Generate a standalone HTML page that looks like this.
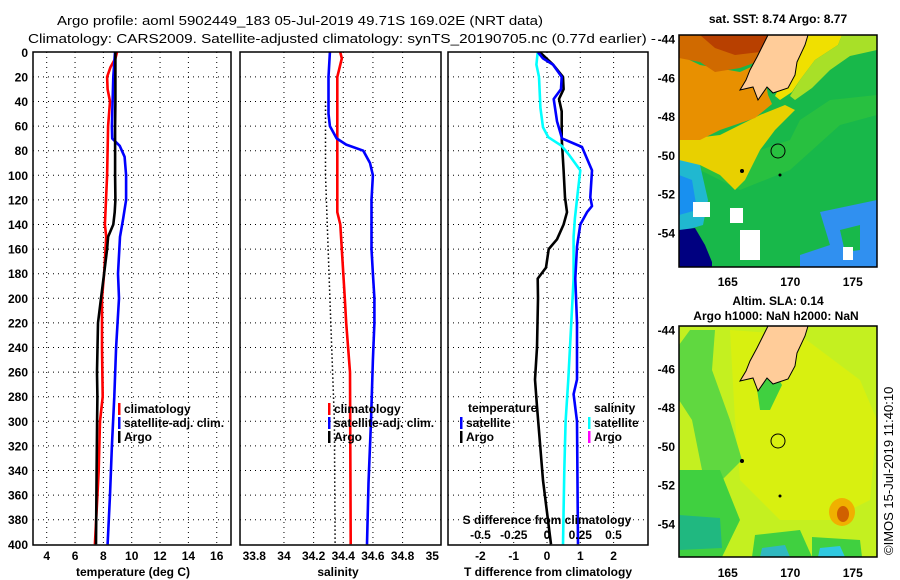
<!DOCTYPE html>
<html><head><meta charset="utf-8">
<style>
html,body{margin:0;padding:0;background:#fff;}
svg{display:block;font-family:"Liberation Sans",sans-serif;}
.t{font-size:12px;font-weight:bold;fill:#000;}
.h{font-size:13px;fill:#000;}
</style></head>
<body>
<svg id="fig" width="900" height="580" viewBox="0 0 900 580" xmlns="http://www.w3.org/2000/svg">
<text class="h" x="57" y="25" textLength="486" lengthAdjust="spacingAndGlyphs">Argo profile: aoml 5902449_183 05-Jul-2019 49.71S 169.02E (NRT data)</text>
<text class="h" x="28" y="43" textLength="628" lengthAdjust="spacingAndGlyphs">Climatology: CARS2009. Satellite-adjusted climatology: synTS_20190705.nc (0.77d earlier) -</text>

<!-- top map -->
<g>
<text class="t" x="778" y="23" text-anchor="middle">sat. SST: 8.74 Argo: 8.77</text>
<svg x="679" y="35" width="198" height="232" viewBox="679 35 198 232">
<rect x="679" y="35" width="198" height="232" fill="#18b84a"/>
<polygon fill="#28c040" points="679,150 700,150 730,145 760,150 790,140 800,120 830,100 877,95 877,115 840,125 790,170 740,190 700,170 679,165"/>
<polygon fill="#e8d000" points="679,140 720,135 760,115 785,105 795,110 775,130 760,150 745,180 735,190 720,175 700,165 679,165"/>
<polygon fill="#e89000" points="679,55 700,65 740,72 762,62 768,95 772,104 755,118 720,130 700,140 679,140"/>
<polygon fill="#d06a00" points="679,35 770,35 762,60 740,68 715,72 700,62 679,58"/>
<polygon fill="#b84000" points="700,35 770,35 760,52 735,55 715,48"/>
<polygon fill="#f0e000" points="806,35 842,35 838,45 815,60 800,80 792,92 780,100 775,96"/>
<polygon fill="#a8e028" points="842,35 877,35 877,50 850,56 830,70 812,88 795,100 790,96 800,80 815,60 838,45"/>
<polygon fill="#20b8d0" points="679,160 700,165 708,200 703,225 679,232"/>
<polygon fill="#1890f0" points="679,175 692,180 697,210 679,215"/>
<polygon fill="#000080" points="679,230 695,228 705,245 712,262 712,267 679,267"/>
<polygon fill="#3090f0" points="820,212 877,200 877,267 800,267 800,255 830,245"/>
<polygon fill="#18b84a" points="840,230 860,225 860,250 845,252"/>
<rect x="693" y="202" width="17" height="15" fill="#fff"/>
<rect x="730" y="208" width="13" height="15" fill="#fff"/>
<rect x="740" y="230" width="20" height="30" fill="#fff"/>
<rect x="843" y="247" width="10" height="13" fill="#fff"/>
<g id="land1">
<polygon fill="#ffcc99" stroke="#000" stroke-width="1" points="768,35 808,35 805,45 797,62 795,75 788,88 773,93 767,87 758,100 753,87 740,90 746,80 750,70 757,57"/>
</g>
<circle cx="778" cy="151" r="7" fill="none" stroke="#000" stroke-width="1"/>
<circle cx="780" cy="175" r="1.5" fill="#000"/>
<circle cx="742" cy="171" r="2" fill="#000"/>
</svg>
<rect x="679" y="35" width="198" height="232" fill="none" stroke="#000" stroke-width="1.5"/>
</g>

<!-- bottom map -->
<g>
<text class="t" x="778" y="305" text-anchor="middle">Altim. SLA: 0.14</text>
<text class="t" x="776" y="320" text-anchor="middle">Argo h1000: NaN h2000: NaN</text>
<svg x="679" y="326" width="198" height="231" viewBox="679 326 198 231">
<rect x="679" y="326" width="198" height="231" fill="#c4f020"/>
<polygon fill="#d8f010" points="730,330 800,335 860,380 877,420 870,500 830,520 780,520 740,480 735,420"/>
<polygon fill="#60d840" points="690,330 715,330 712,370 730,420 742,460 722,480 702,470 692,420 679,400 679,345"/>
<polygon fill="#40d040" points="679,470 720,470 740,520 722,557 679,557"/>
<polygon fill="#20b880" points="679,515 720,518 722,548 679,550"/>
<polygon fill="#40d040" points="755,535 800,530 812,557 752,557"/>
<polygon fill="#40d040" points="812,537 860,540 862,557 812,557"/>
<polygon fill="#30c8e0" points="820,548 840,546 845,557 818,557"/>
<polygon fill="#30b8c0" points="762,548 785,545 790,557 760,557"/>
<ellipse cx="842" cy="512" rx="13" ry="14" fill="#f0b000"/>
<ellipse cx="843" cy="514" rx="6" ry="8" fill="#d06000"/>
<polygon fill="#40d040" points="755,375 775,372 782,385 770,410 760,410"/>
<g transform="translate(0,291)">
<polygon fill="#ffcc99" stroke="#000" stroke-width="1" points="768,35 808,35 805,45 797,62 795,75 788,88 773,93 767,87 758,100 753,87 740,90 746,80 750,70 757,57"/>
</g>
<circle cx="778" cy="441" r="7" fill="none" stroke="#000" stroke-width="1"/>
<circle cx="780" cy="496" r="1.5" fill="#000"/>
<circle cx="742" cy="461" r="2" fill="#000"/>
</svg>
<rect x="679" y="326" width="198" height="231" fill="none" stroke="#000" stroke-width="1.5"/>
</g>
<text class="h" transform="translate(893,555) rotate(-90)">©IMOS 15-Jul-2019 11:40:10</text>
<g id="layer"></g>
</svg>
<script>
// ---- panel 1: temperature ----
const argoTDepth=[0,20,40,60,80,100,120,130,140,150,160,180,200,220,260,280,300,340,400];
const argoTVal=[8.85,8.85,8.85,8.83,8.83,8.83,8.85,8.8,8.7,8.33,8.26,8.05,7.83,7.62,7.55,7.58,7.56,7.52,7.48];
const climTDepth=[0,5,12,20,30,40,60,100,140,150,180,200,240,280,300,340,400];
const climTVal=[8.96,8.85,8.5,8.26,8.3,8.47,8.33,8.26,8.11,8.2,8.05,7.9,7.9,7.95,7.76,7.67,7.4];
const satTDepth=[0,20,60,70,76,85,100,120,135,150,180,200,240,280,320,360,400];
const satTVal=[8.82,8.7,8.6,8.62,9.15,9.5,9.6,9.6,9.4,9.17,9.03,9.1,8.9,8.77,8.6,8.47,8.3];
const tTicks=[4,6,8,10,12,14,16];
// ---- panel 2: salinity ----
const climSDepth=[0,5,15,20,60,130,140,160,180,200,220,260,400];
const climSVal=[34.38,34.39,34.37,34.36,34.36,34.36,34.38,34.39,34.40,34.41,34.42,34.445,34.45];
const satSDepth=[0,20,50,60,70,75,80,90,100,120,160,180,200,220,250,300,350,400];
const satSVal=[34.31,34.30,34.30,34.31,34.355,34.42,34.535,34.58,34.60,34.59,34.59,34.60,34.61,34.61,34.60,34.587,34.57,34.56];
const argoSDepth=[40,100,200,300,400];
const argoSVal=[34.28,34.28,34.31,34.34,34.345];
const sTicks=[33.8,34,34.2,34.4,34.6,34.8,35];
const sTickLabels=["33.8","34","34.2","34.4","34.6","34.8","35"];
// ---- panel 3: differences ----
const argoDTDepth=[0,10,20,30,38,48,70,96,118,130,140,152,160,175,184,200,240,266,288,348,400];
const argoDTVal=[-0.21,0.18,0.48,0.5,0.36,0.44,0.44,0.5,0.54,0.6,0.5,0.3,0.05,-0.03,-0.28,-0.27,-0.3,-0.36,-0.3,-0.12,0.12];
const satDTDepth=[0,5,10,20,30,38,56,70,77,96,118,125,130,140,158,184,220,266,278,300,400];
const satDTVal=[-0.27,-0.12,0.18,0.44,0.42,0.2,0.3,0.45,1.05,1.35,1.3,1.35,1.2,1.0,0.9,0.85,0.9,0.9,0.8,0.9,0.93];
const satDSDepth=[0,10,20,45,61,69,76,84,96,115,135,150,184,266,300,340,400];
const satDSVal=[-0.07,-0.08,-0.06,-0.05,-0.03,0.01,0.11,0.17,0.25,0.23,0.21,0.2,0.2,0.16,0.14,0.13,0.12];
const dtTicks=[-2,-1,0,1,2];
const dsTicks=[-0.5,-0.25,0,0.25,0.5];
const dsTickLabels=["-0.5","-0.25","0","0.25","0.5"];
const depthTicks=[0,20,40,60,80,100,120,140,160,180,200,220,240,260,280,300,320,340,360,380,400];
// ---- map ticks ----
const latTicks=[-44,-46,-48,-50,-52,-54];
const lonTicks=[165,170,175];

const NS="http://www.w3.org/2000/svg";
const layer=document.getElementById('layer');
function mk(tag,attrs,parent){const e=document.createElementNS(NS,tag);for(const k in attrs)e.setAttribute(k,attrs[k]);(parent||layer).appendChild(e);return e;}
const yD=d=>52.3+d*1.23;
const x1=t=>46.7+(t-4)*14.17;
const x2=s=>254.3+(s-33.8)*148.3;
const x3T=t=>547+t*33.3;
const x3S=s=>547+s*133;
const latY=(lat,top)=>top+(-44-lat)*19.4;
const lonX=lon=>679+(lon-161.1)*12.5;

const panels=[{x:33,w:198,name:'temperature-panel'},{x:240,w:201,name:'salinity-panel'},{x:448,w:200,name:'difference-panel'}];
const pg=[];
panels.forEach(p=>{
  const g=mk('g',{});
  
  
  pg.push(g);
  depthTicks.slice(1,-1).forEach(d=>{
    const l=mk('line',{x1:p.x,x2:p.x+p.w,y1:yD(d),y2:yD(d),stroke:'#000','stroke-width':1,'stroke-dasharray':'1,4'},g);
    
    
  });
});
function vgrid(vals,fx,g){vals.forEach(v=>{const l=mk('line',{x1:fx(v),x2:fx(v),y1:52,y2:545,stroke:'#000','stroke-width':1,'stroke-dasharray':'1,4'},g);
  
  });}
vgrid(tTicks,x1,pg[0]);vgrid(sTicks.slice(1,-1),x2,pg[1]);vgrid(dtTicks,x3T,pg[2]);
function line(ds,vs,fx,color,g,name,w,dash){
  const pts=ds.map((d,i)=>fx(vs[i]).toFixed(1)+','+yD(d).toFixed(1)).join(' ');
  const a={points:pts,fill:'none',stroke:color,'stroke-width':w||2.6,'stroke-linejoin':'round'};
  if(dash)a['stroke-dasharray']=dash;
  const e=mk('polyline',a,g);
  
  
}
line(climTDepth,climTVal,x1,'#ff0000',pg[0],'climatology-temperature-line');
line(satTDepth,satTVal,x1,'#0000ff',pg[0],'satellite-temperature-line');
line(argoTDepth,argoTVal,x1,'#000',pg[0],'argo-temperature-line');
line(argoSDepth,argoSVal,x2,'#000',pg[1],'argo-salinity-line',1.5,'1.5,2.5');
line(climSDepth,climSVal,x2,'#ff0000',pg[1],'climatology-salinity-line');
line(satSDepth,satSVal,x2,'#0000ff',pg[1],'satellite-salinity-line');
line(argoDTDepth,argoDTVal,x3T,'#000',pg[2],'argo-temperature-diff-line');
line(satDSDepth,satDSVal,x3S,'#00ffff',pg[2],'satellite-salinity-diff-line');
line(satDTDepth,satDTVal,x3T,'#0000ff',pg[2],'satellite-temperature-diff-line');
panels.forEach((p,i)=>{const r=mk('rect',{x:p.x,y:52,width:p.w,height:493,fill:'none',stroke:'#000','stroke-width':1.5},pg[i]);
  
  });
function txt(x,y,s,anchor,name,cls,g){const e=mk('text',{x:x,y:y,'text-anchor':anchor||'middle',class:cls||'t'},g);e.textContent=s;
  
  return e;}
depthTicks.forEach(d=>txt(28,yD(d)+4.5,String(d),'end','depth-tick-label'));
tTicks.forEach(t=>txt(x1(t),560,String(t),'middle','temperature-tick-label'));
sTicks.forEach((s,i)=>txt(x2(s),560,sTickLabels[i],'middle','salinity-tick-label'));
dtTicks.forEach(t=>txt(x3T(t),560,String(t),'middle','t-diff-tick-label'));
dsTicks.forEach((s,i)=>txt(x3S(s),539,dsTickLabels[i],'middle','s-diff-tick-label'));
txt(133,576,'temperature (deg C)','middle','x-axis-title-temperature');
txt(338,576,'salinity','middle','x-axis-title-salinity');
txt(548,576,'T difference from climatology','middle','x-axis-title-t-difference');
txt(547,524,'S difference from climatology','middle','s-axis-title');
function leg(x,y,color,s,name){const r=mk('rect',{x:x,y:y-9,width:2.5,height:12,fill:color});
  
  
  txt(x+6,y+1,s,'start',name);}
leg(118,412,'#ff0000','climatology','legend-climatology');
leg(118,426,'#0000ff','satellite-adj. clim.','legend-satellite');
leg(118,440,'#000','Argo','legend-argo');
leg(328,412,'#ff0000','climatology','legend-climatology-s');
leg(328,426,'#0000ff','satellite-adj. clim.','legend-satellite-s');
leg(328,440,'#000','Argo','legend-argo-s');
txt(468,412,'temperature','start','legend-temperature-heading');
leg(460,426,'#0000ff','satellite','legend-t-satellite');
leg(460,440,'#000','Argo','legend-t-argo');
txt(594,412,'salinity','start','legend-salinity-heading');
leg(588,426,'#00ffff','satellite','legend-s-satellite');
leg(588,440,'#ff00ff','Argo','legend-s-argo');
[35,326].forEach(top=>{
  latTicks.forEach(l=>txt(675,latY(l,top+4)+4.5,String(l),'end','latitude-tick-label'));
  lonTicks.forEach(l=>txt(lonX(l),top+251,String(l),'middle','longitude-tick-label'));
});
</script>
</body></html>
